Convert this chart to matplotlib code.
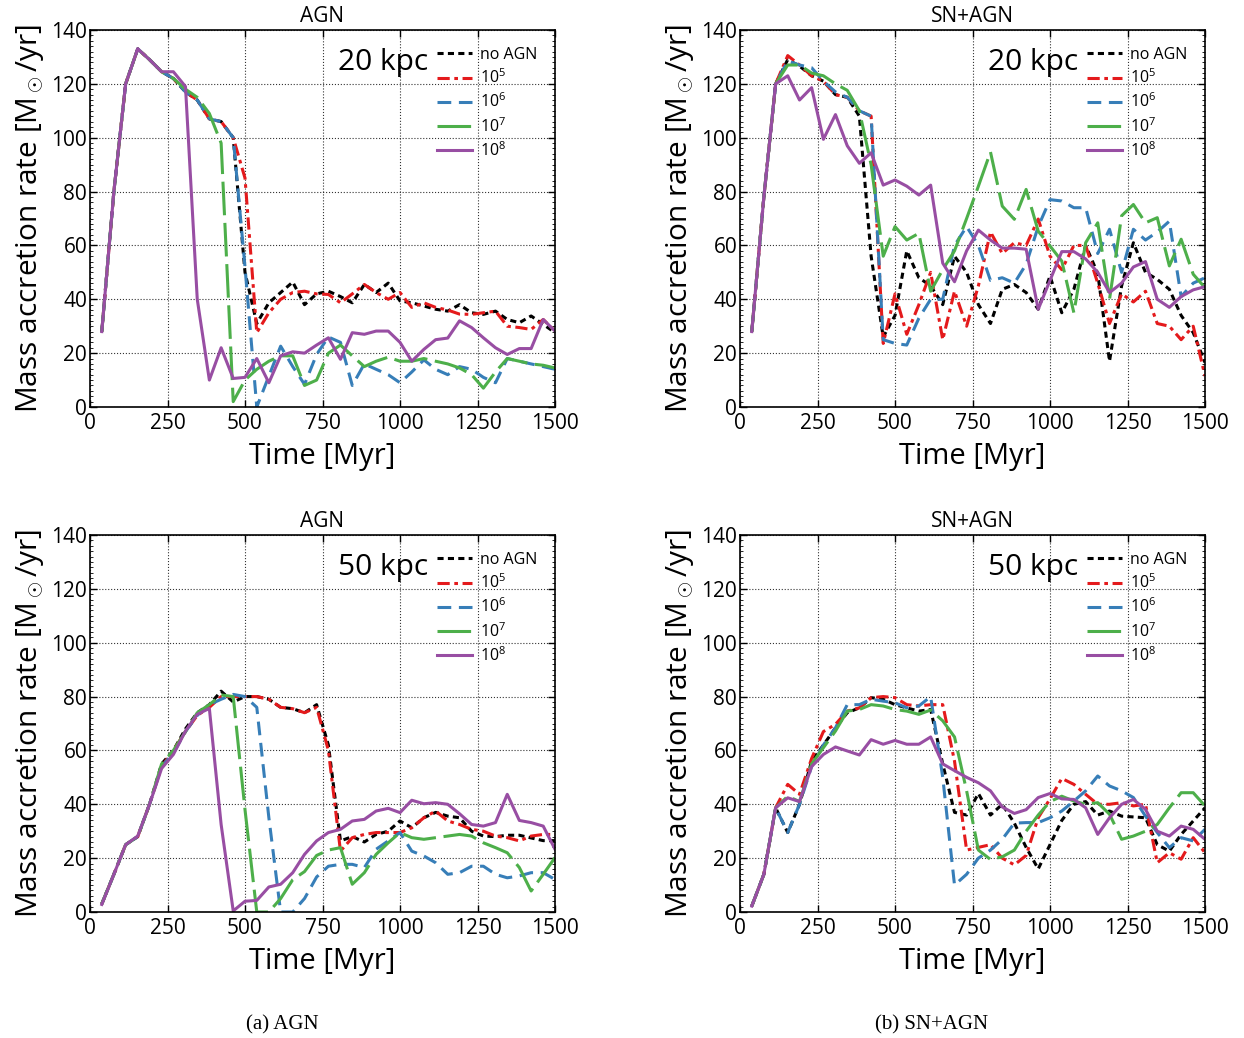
import matplotlib
matplotlib.use("Agg")
import matplotlib.pyplot as plt
from matplotlib.ticker import MultipleLocator

plt.rcParams['font.family'] = ['Open Sans', 'DejaVu Sans']
plt.rcParams['mathtext.fontset'] = 'custom'
plt.rcParams['mathtext.rm'] = 'Open Sans'
plt.rcParams['mathtext.it'] = 'Open Sans:italic'
plt.rcParams['mathtext.bf'] = 'Open Sans:bold'

# time axis [Myr]
time = [38, 77, 115, 154, 192, 231, 269, 308, 346, 385, 423, 462, 500, 538,
        577, 615, 654, 692, 731, 769, 808, 846, 885, 923, 962, 1000, 1038,
        1077, 1115, 1154, 1192, 1231, 1269, 1308, 1346, 1385, 1423, 1462, 1500]

labels = ['no AGN', r'10$^5$', r'10$^6$', r'10$^7$', r'10$^8$']

# ---- AGN, 20 kpc ----
agn20_noagn = [28, 80, 120, 133, 129, 124.5, 122, 117, 114, 107, 106, 100, 50, 31, 38.7, 42.5, 46.4, 38, 42,
               43, 41, 38.7, 45.5, 42.5, 46, 39.4, 38.7, 37.5, 36.3, 35.6, 38, 35, 34.4, 35.6, 32.5, 31.3, 33.8, 30.7, 27.6]
agn20_e5 = [28, 80, 120, 133, 129, 124.5, 122, 117, 114, 107, 106, 100, 85, 27.6, 35, 40, 42.5, 43, 42,
            41.8, 38.7, 42, 45.5, 42.5, 40, 42.5, 37, 38.7, 37, 36, 34.5, 34.4, 35, 35.6, 30, 29.5, 28.8, 32.5, 28.2]
agn20_e6 = [28, 80, 120, 133, 129, 124.5, 122, 117, 114, 107, 106, 100, 52, 0, 11.5, 22.6, 15, 8.4, 19.5,
            26, 24, 8, 16, 14, 12, 9, 13, 17.5, 14, 12, 15, 14, 11, 9, 18, 17, 16, 15, 14]
agn20_e7 = [28, 80, 120, 133, 129, 124.5, 122, 118, 115, 109, 98, 2, 10, 14, 17, 19, 19, 8, 10,
            20, 23, 19, 15, 17, 18.5, 17, 17, 18, 17, 16, 14.5, 12, 7, 13, 18, 17, 16, 15.5, 14.5]
agn20_e8 = [28, 80, 120, 133, 129, 124.5, 124.5, 119, 40, 10, 22, 10.6, 11, 18, 9, 19, 20.5, 20, 23,
            25.7, 17.7, 27.6, 27, 28.2, 28.2, 24, 17, 21.4, 25, 25.6, 32, 29.5, 25.7, 22, 19.5, 21.7, 21.7, 32.5, 28.2]

# ---- SN+AGN, 20 kpc ----
sn20_noagn = [28, 78, 120, 129, 126.6, 123, 121, 116, 115, 108, 56, 26, 34, 58, 48, 45, 38, 56, 50,
              38, 31, 43.7, 45.5, 42.5, 36.3, 48.6, 35, 43.7, 60, 49.6, 17, 45, 61, 50, 47.4, 43.7, 34, 27.6, 16.5]
sn20_e5 = [28, 78, 120, 130.5, 127, 123, 121, 116, 115, 110, 108, 23.6, 42, 27, 38, 50, 25, 43, 30,
           45, 65, 57, 61, 60, 69.8, 56, 51, 60, 60, 46, 31, 42, 39, 43, 31, 30, 25, 30, 11.5]
sn20_e6 = [28, 78, 120, 128.5, 127, 126, 121, 117, 115, 110, 108, 25, 23.6, 23, 33, 40, 40, 60, 67,
           60, 47, 48, 46, 53, 67, 77, 76.5, 74, 74, 57, 66, 50, 66, 62, 65, 69, 41, 46, 48]
sn20_e7 = [28, 78, 120, 127, 127, 124, 123, 120, 117.6, 110, 90, 56, 67, 62, 64.5, 43, 51, 58, 70,
           82, 94.7, 74.6, 69.7, 80.8, 65.3, 59.8, 54.2, 35, 61, 68.4, 40, 71, 75.2, 68.4, 70.3, 52.4, 62.3, 49.3, 44.3]
sn20_e8 = [28, 78, 120, 123, 114, 118.6, 99.4, 108.6, 97, 90.5, 94.4, 82.4, 84.3, 82, 78.7, 82.4, 53.4, 46.5, 58,
           65.7, 62, 59, 59, 58.6, 36.3, 47, 57.7, 57.7, 55, 50, 42.5, 46, 52, 54, 40, 37, 41, 43.5, 44.7]

# ---- AGN, 50 kpc ----
agn50_noagn = [3, 14, 25, 28, 40, 55, 60, 68, 74, 77, 82, 78, 80, 80, 79, 76, 75.5, 74, 77, 62,
               26.4, 28, 26, 28.8, 30, 33.8, 31.3, 35, 37, 35.6, 35, 30, 28.2, 28, 28.5, 28.5, 27.5, 26.5, 26.5]
agn50_e5 = [3, 14, 25, 28, 40, 54, 60, 67, 73, 76, 80, 80, 80, 80, 79, 76, 75.5, 74, 76, 60,
            22.6, 27.6, 28.8, 29.5, 29.5, 29.5, 31.3, 35, 37.5, 33.8, 32.5, 30.7, 30, 28.2, 27.6, 26.4, 28.2, 28.8, 28.8]
agn50_e6 = [3, 14, 25, 28, 40, 54, 59, 67, 73, 77, 79, 80.8, 80, 76, 35, 0, 0, 5, 13,
            17, 17.7, 17.7, 16.5, 23.3, 26.4, 29.5, 22.6, 20.8, 18.3, 14, 14.6, 17, 17, 14, 12.7, 13.4, 14.6, 14.6, 12.1]
agn50_e7 = [3, 14, 25, 28, 40, 55, 60, 67, 74, 77, 80.6, 80, 38, 0, 0, 5, 12, 15, 21, 23,
            23.9, 10.3, 14.6, 21.4, 25.7, 29.5, 27.6, 27, 27.6, 28.2, 28.8, 28.2, 25.7, 23.9, 22, 16.5, 7.8, 14, 20.2]
agn50_e8 = [2.8, 14, 25, 28.2, 40, 53.3, 58.5, 67.2, 73.4, 75.6, 32.5, 0.4, 4, 4.3, 9.3, 10.3, 14.6, 21.4, 26.4,
            29.5, 30.7, 33.8, 34.4, 37.5, 38.5, 36.9, 41.5, 40.2, 40.6, 40, 36.5, 32.5, 31.9, 33.2, 43.7, 34, 33.2, 31.9, 23.3]

# ---- SN+AGN, 50 kpc ----
sn50_noagn = [2.2, 14, 38.7, 29.5, 40, 56, 62, 68.4, 74, 75.8, 79.6, 79, 77, 75.8, 74.6, 75.2, 55, 37, 36, 44,
              36, 40, 33, 24, 16, 25, 34, 40, 41, 36, 37.5, 35.6, 35.3, 35, 25, 22.6, 28.8, 33.8, 38.7]
sn50_e5 = [2.2, 14, 38.7, 47.4, 43.7, 57, 67, 69.7, 74.6, 75.8, 79.6, 80, 79.6, 77, 76.5, 77, 77, 56, 23, 24,
           25, 20, 17.5, 21, 35, 42, 49.6, 47.4, 43.7, 40, 40, 40.6, 39.4, 40, 18.3, 22, 19.6, 27.6, 22]
sn50_e6 = [2.2, 14, 38.7, 29.5, 40, 54, 62, 68.4, 77, 77, 79, 78.3, 77.7, 75.8, 76.5, 80, 50, 10, 14,
           20, 23, 27, 33, 33.2, 33.2, 35, 37.5, 41.2, 45, 50.5, 46.8, 45, 42.5, 35.6, 29.5, 23.9, 27.6, 26.4, 30.7]
sn50_e7 = [2.2, 14, 38.7, 43, 41, 55, 61, 67.2, 74.6, 75.2, 77, 76.5, 75.2, 74.6, 73.4, 75, 71, 65, 45, 23,
           19.5, 20.5, 23, 30, 36, 41, 43, 41.2, 40, 40.6, 36.3, 27, 28.2, 30, 32.5, 38.7, 44.3, 44.3, 39.4]
sn50_e8 = [2.2, 14, 38.7, 42.4, 41, 54, 58.5, 61.3, 59.8, 58.3, 64, 62.3, 63.7, 62.3, 62.3, 65, 55, 52.5, 50,
           48, 45, 39, 36.6, 38, 42.5, 44, 42, 41.8, 38.7, 28.8, 35, 40, 41.8, 38.1, 30, 28.2, 31.9, 30.7, 27]

panels = [
    ('AGN', '20 kpc', [agn20_noagn, agn20_e5, agn20_e6, agn20_e7, agn20_e8]),
    ('SN+AGN', '20 kpc', [sn20_noagn, sn20_e5, sn20_e6, sn20_e7, sn20_e8]),
    ('AGN', '50 kpc', [agn50_noagn, agn50_e5, agn50_e6, agn50_e7, agn50_e8]),
    ('SN+AGN', '50 kpc', [sn50_noagn, sn50_e5, sn50_e6, sn50_e7, sn50_e8]),
]

colors = ['black', '#e41a1c', '#377eb8', '#4daf4a', '#984ea3']
styles = [(0, (2.0, 1.4)), (0, (4, 1.5, 1.2, 1.5)), (0, (4.5, 2.5)), (0, (11, 2.5)), '-']

W, H = 1244, 1038
fig = plt.figure(figsize=(W / 100, H / 100), dpi=100)

boxes = [(90, 30), (740, 30), (90, 535), (740, 535)]
aw, ah = 465, 377

for (title, dist, series), (x0, y0) in zip(panels, boxes):
    ax = fig.add_axes([x0 / W, 1 - (y0 + ah) / H, aw / W, ah / H])
    for vals, c, ls, lab in zip(series, colors, styles, labels):
        ax.plot(time, vals, color=c, linestyle=ls, lw=2.2, label=lab)
    ax.set_xlim(0, 1500)
    ax.set_ylim(0, 140)
    ax.set_xticks([0, 250, 500, 750, 1000, 1250, 1500])
    ax.set_yticks([0, 20, 40, 60, 80, 100, 120, 140])
    ax.yaxis.set_minor_locator(MultipleLocator(2))
    ax.tick_params(which='both', direction='in', top=True, right=True, labelsize=15)
    ax.tick_params(axis='x', pad=4)
    ax.tick_params(axis='y', pad=2)
    ax.tick_params(which='major', length=5, width=1)
    ax.tick_params(which='minor', length=2, width=0.6)
    ax.grid(True, which='major', linestyle=':', color='black', lw=0.8, alpha=0.8)
    for sp in ax.spines.values():
        sp.set_linewidth(1.2)
    ax.set_xlabel('Time [Myr]', fontsize=21, labelpad=6)
    ax.set_ylabel(r'Mass accretion rate [M$_\odot$/yr]', fontsize=21.5, labelpad=4)
    ax.set_title(title, fontsize=15, pad=6)
    ax.text(0.727, 0.915, dist, transform=ax.transAxes, fontsize=21.5,
            ha='right', va='center')
    ax.legend(loc='upper right', frameon=False, fontsize=11.5, handlelength=2.2,
              handletextpad=0.45, labelspacing=0.35, borderaxespad=0.3,
              bbox_to_anchor=(0.985, 0.985))

fig.text(282 / W, 1 - 1025 / H, '(a) AGN', ha='center', va='center',
         fontsize=15, family=['Liberation Serif', 'DejaVu Serif'])
fig.text(932 / W, 1 - 1025 / H, '(b) SN+AGN', ha='center', va='center',
         fontsize=15, family=['Liberation Serif', 'DejaVu Serif'])

fig.savefig('out.png', dpi=100)
